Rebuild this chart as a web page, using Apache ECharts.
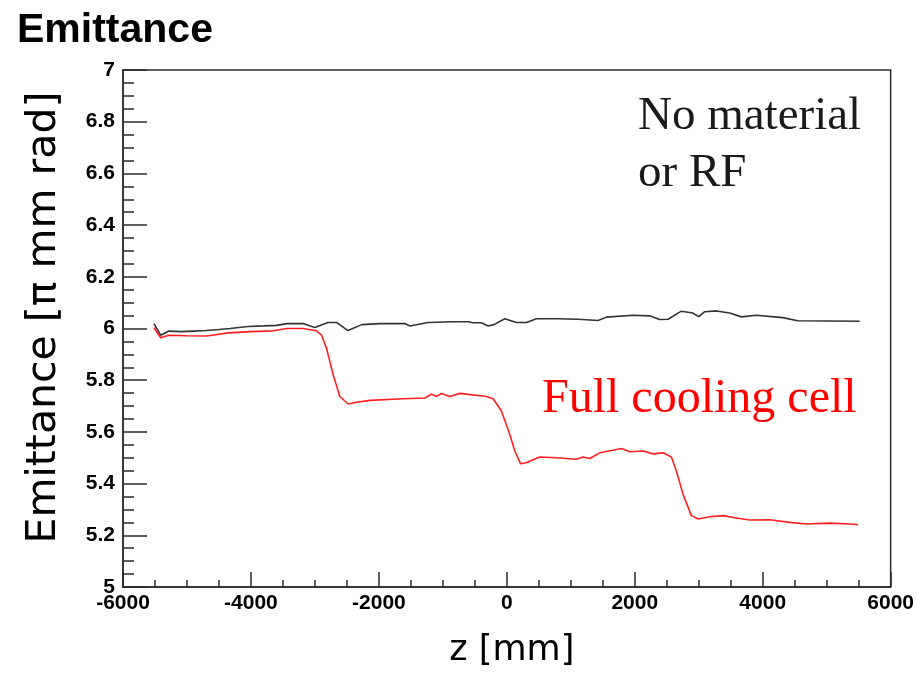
<!DOCTYPE html>
<html>
<head>
<meta charset="utf-8">
<title>Emittance</title>
<script src="https://cdn.jsdelivr.net/npm/echarts@6/dist/echarts.min.js"></script>
<style>
  html, body { margin: 0; padding: 0; background: #ffffff; }
  #chart { width: 917px; height: 673px; }
</style>
</head>
<body>
<div id="chart"></div>
<script>
// Beam emittance along the channel, with and without the cooling cell
const titleText = 'Emittance';
const xAxisName = 'z [mm]';
const yAxisName = 'Emittance [\u03c0 mm rad]';
const labelNoMaterial = ['No material', 'or RF'];
const labelCooling = 'Full cooling cell';

// Reference run: no absorber material, no RF
const zNoMaterial = [-5516, -5411, -5281, -5100, -4900, -4700, -4500, -4328, -4047, -3800,
  -3600, -3437, -3187, -3000, -2797, -2656, -2484, -2266, -1984, -1594,
  -1516, -1230, -865, -600, -531, -400, -292, -200, -31, 151,
  307, 464, 800, 1115, 1141, 1427, 1557, 1974, 2234, 2390,
  2521, 2729, 2906, 3000, 3094, 3276, 3484, 3667, 3901, 4312,
  4547, 5516];
const emitNoMaterial = [6.019, 5.974, 5.990, 5.988, 5.990, 5.992, 5.996, 6.000, 6.008, 6.010,
  6.012, 6.019, 6.019, 6.004, 6.023, 6.023, 5.992, 6.015, 6.019, 6.019,
  6.010, 6.023, 6.026, 6.026, 6.022, 6.022, 6.010, 6.015, 6.038, 6.023,
  6.023, 6.038, 6.038, 6.036, 6.031, 6.031, 6.044, 6.051, 6.049, 6.035,
  6.036, 6.067, 6.060, 6.046, 6.065, 6.068, 6.060, 6.045, 6.051, 6.042,
  6.030, 6.028];

// Full cooling cell
const zCooling = [-5516, -5411, -5281, -5000, -4693, -4354, -4000, -3651, -3443, -3187,
  -2974, -2896, -2818, -2714, -2609, -2479, -2349, -2141, -1620, -1281,
  -1177, -1100, -1020, -891, -734, -318, -213, -83, 47, 125,
  214, 300, 516, 776, 1089, 1193, 1297, 1453, 1714, 1792,
  1922, 2130, 2286, 2443, 2573, 2651, 2755, 2885, 2990, 3172,
  3380, 3590, 3797, 4109, 4422, 4682, 5047, 5359, 5490];
const emitCooling = [6.003, 5.964, 5.974, 5.972, 5.971, 5.983, 5.988, 5.991, 6.000, 6.000,
  5.991, 5.974, 5.923, 5.820, 5.737, 5.708, 5.715, 5.722, 5.728, 5.731,
  5.746, 5.737, 5.749, 5.737, 5.749, 5.737, 5.728, 5.680, 5.590, 5.526,
  5.477, 5.481, 5.503, 5.500, 5.494, 5.503, 5.497, 5.519, 5.532, 5.536,
  5.523, 5.526, 5.515, 5.519, 5.503, 5.449, 5.359, 5.276, 5.263, 5.272,
  5.276, 5.267, 5.259, 5.260, 5.250, 5.244, 5.247, 5.244, 5.241];

const pairs = (xs, ys) => xs.map((x, i) => [x, ys[i]]);

const frameColor = '#2b2b2b';
const chart = echarts.init(document.getElementById('chart'), null, { renderer: 'canvas' });

chart.setOption({
  backgroundColor: '#ffffff',
  animation: false,
  title: {
    text: titleText,
    left: 12,
    top: 5,
    textStyle: { fontFamily: 'Liberation Sans', fontWeight: 'bold', fontSize: 41, color: '#000000' }
  },
  grid: {
    left: 123, right: 26, top: 70, bottom: 83,
    show: true, borderColor: frameColor, borderWidth: 1.5, backgroundColor: 'transparent'
  },
  xAxis: {
    type: 'value',
    min: -6000, max: 6000, interval: 2000,
    name: xAxisName,
    nameLocation: 'middle',
    nameGap: 46,
    nameTextStyle: { fontFamily: 'DejaVu Sans', fontSize: 35, color: '#000000', padding: [0, 0, 0, 10] },
    axisLine: { show: true, onZero: false, lineStyle: { color: frameColor, width: 1.5 } },
    axisTick: { show: true, inside: true, length: 15, lineStyle: { color: frameColor, width: 1.5 } },
    minorTick: { show: true, splitNumber: 4, length: 7, lineStyle: { color: frameColor, width: 1.5 } },
    splitLine: { show: false },
    axisLabel: {
      margin: 6, fontFamily: 'Liberation Sans', fontWeight: 'bold', fontSize: 21, color: '#000000',
      formatter: v => String(v)
    }
  },
  yAxis: {
    type: 'value',
    min: 5, max: 7, interval: 0.2,
    name: yAxisName,
    nameLocation: 'middle',
    nameGap: 58,
    nameTextStyle: { fontFamily: 'DejaVu Sans', fontSize: 41, color: '#000000', padding: [0, 0, 0, 22] },
    axisLine: { show: true, onZero: false, lineStyle: { color: frameColor, width: 1.5 } },
    axisTick: { show: true, inside: true, length: 24, lineStyle: { color: frameColor, width: 1.5 } },
    minorTick: { show: true, splitNumber: 4, length: 11, lineStyle: { color: frameColor, width: 1.5 } },
    splitLine: { show: false },
    axisLabel: { margin: 8, fontFamily: 'Liberation Sans', fontWeight: 'bold', fontSize: 21, color: '#000000' }
  },
  series: [
    {
      name: labelNoMaterial.join(' '),
      type: 'line',
      data: pairs(zNoMaterial, emitNoMaterial),
      showSymbol: false,
      lineStyle: { color: '#333333', width: 1.6 },
      z: 3
    },
    {
      name: labelCooling,
      type: 'line',
      data: pairs(zCooling, emitCooling),
      showSymbol: false,
      lineStyle: { color: '#ff2020', width: 1.6 },
      z: 4
    }
  ],
  graphic: [
    {
      type: 'text', left: 638, top: 88,
      style: {
        text: labelNoMaterial.join('\n'),
        font: '47px "Liberation Serif"',
        lineHeight: 57,
        fill: '#1a1a1a'
      }
    },
    {
      type: 'text', left: 542, top: 375,
      style: {
        text: labelCooling,
        font: '48px "Liberation Serif"',
        fill: '#ff0000'
      }
    }
  ]
});
</script>
</body>
</html>
